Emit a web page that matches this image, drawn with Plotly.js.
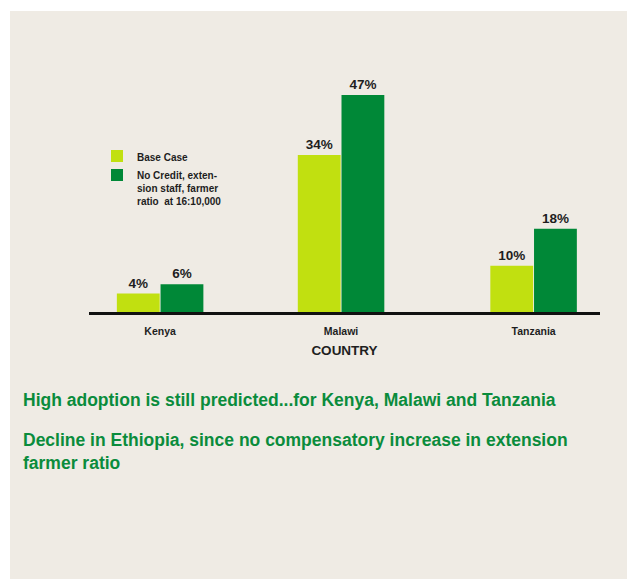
<!DOCTYPE html>
<html>
<head>
<meta charset="utf-8">
<script src="https://cdn.plot.ly/plotly-3.0.1.min.js"></script>
<style>
  html, body { margin: 0; padding: 0; background: #ffffff; }
  #chart { width: 627px; height: 579px; }
</style>
</head>
<body>
<div id="chart"></div>
<script>
// Adoption rates by country under two scenarios (percent)
const countries = ['Kenya', 'Malawi', 'Tanzania'];
const baseCase = [4, 34, 10];
const noCredit = [6, 47, 18];
const seriesNames = ['Base Case', 'No Credit, exten-<br>sion staff, farmer<br>ratio  at 16:10,000'];

// Horizontal slot for each country group along the axis
const slots = [0, 1, 2.064];

const FONT = '"Liberation Sans", Arial, Helvetica, sans-serif';
const LIGHT = '#c1e010';
const DARK = '#008837';
const TEXT_GREEN = '#0a8c3c';
const PANEL = '#efebe4';

// plot area in pixels, used to convert page positions to paper units
const PL = 89, PW = 511, PT = 58, PH = 254;
const px = v => (v - PL) / PW;
const py = v => (PT + PH - v) / PH;

const valueLabel = {
  textposition: 'outside',
  texttemplate: '%{y}%',
  textfont: { family: FONT, size: 13.5, color: '#1e1e1e', weight: 'bold' },
  cliponaxis: false,
  hoverinfo: 'skip'
};

const traces = [
  Object.assign({
    type: 'bar', name: seriesNames[0], x: slots, y: baseCase,
    marker: { color: LIGHT, line: { width: 0 } }
  }, valueLabel),
  Object.assign({
    type: 'bar', name: seriesNames[1], x: slots, y: noCredit,
    marker: { color: DARK, line: { width: 0 } }
  }, valueLabel)
];

const layout = {
  width: 627,
  height: 579,
  margin: { l: PL, r: 627 - PL - PW, t: PT, b: 579 - PT - PH, pad: 0 },
  paper_bgcolor: '#ffffff',
  plot_bgcolor: 'rgba(0,0,0,0)',
  barmode: 'group',
  bargap: 0.517,
  bargroupgap: 0.02,
  font: { family: FONT, color: '#1e1e1e' },
  showlegend: true,
  legend: {
    x: px(97), y: py(143), xanchor: 'left', yanchor: 'top',
    bgcolor: 'rgba(0,0,0,0)',
    font: { family: FONT, size: 10, color: '#1e1e1e', weight: 'bold' },
    valign: 'top',
    tracegroupgap: 0,
    itemwidth: 30,
    traceorder: 'normal'
  },
  xaxis: {
    range: [-0.393, 2.431],
    tickmode: 'array',
    tickvals: slots,
    ticktext: countries,
    ticks: '',
    ticklabelstandoff: 7,
    tickfont: { family: FONT, size: 10.5, color: '#1e1e1e', weight: 'bold' },
    showgrid: false,
    zeroline: false,
    showline: true,
    linecolor: '#111111',
    linewidth: 3,
    fixedrange: true,
    title: {
      text: 'COUNTRY',
      standoff: 10,
      font: { family: FONT, size: 13.5, color: '#1e1e1e', weight: 'bold' }
    }
  },
  yaxis: {
    range: [0, 55],
    visible: false,
    showgrid: false,
    zeroline: false,
    fixedrange: true
  },
  shapes: [{
    type: 'rect', xref: 'paper', yref: 'paper', layer: 'below',
    x0: px(10), x1: px(627), y0: py(579), y1: py(11),
    fillcolor: PANEL, line: { width: 0 }
  }],
  annotations: [
    {
      xref: 'paper', yref: 'paper', x: px(21), y: py(400),
      xanchor: 'left', yanchor: 'middle', showarrow: false, align: 'left',
      text: 'High adoption is still predicted...for Kenya, Malawi and Tanzania',
      font: { family: FONT, size: 17.5, color: TEXT_GREEN, weight: 'bold' }
    },
    {
      xref: 'paper', yref: 'paper', x: px(21), y: py(428),
      xanchor: 'left', yanchor: 'top', showarrow: false, align: 'left',
      text: 'Decline in Ethiopia, since no compensatory increase in extension<br>farmer ratio',
      font: { family: FONT, size: 17.5, color: TEXT_GREEN, weight: 'bold' }
    }
  ]
};

Plotly.newPlot('chart', traces, layout, { displayModeBar: false, staticPlot: true });
</script>
</body>
</html>
